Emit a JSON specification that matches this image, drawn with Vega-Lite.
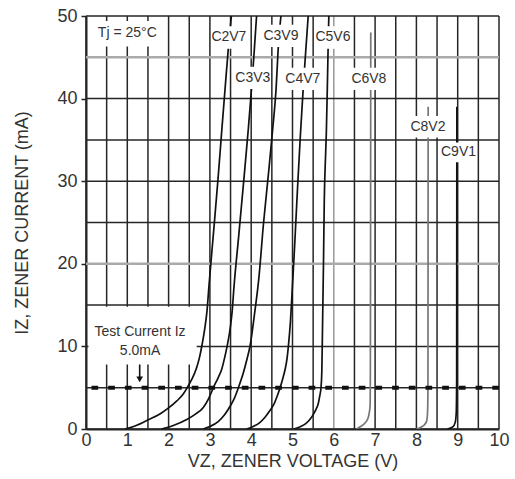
{
  "$schema": "https://vega.github.io/schema/vega-lite/v6.json",
  "width": 413,
  "height": 413,
  "autosize": {"type": "none"},
  "padding": {"left": 86, "top": 16, "right": 16, "bottom": 50},
  "background": "white",
  "config": {"view": {"stroke": null}, "font": "Liberation Sans"},
  "datasets": {
    "gridx": [{"g": 0}, {"g": 0.5}, {"g": 1}, {"g": 1.5}, {"g": 2}, {"g": 2.5}, {"g": 3}, {"g": 3.5}, {"g": 4}, {"g": 4.5}, {"g": 5}, {"g": 5.5}, {"g": 6}, {"g": 6.5}, {"g": 7}, {"g": 7.5}, {"g": 8}, {"g": 8.5}, {"g": 9}, {"g": 9.5}, {"g": 10}],
    "gridy": [{"g": 0}, {"g": 5}, {"g": 10}, {"g": 15}, {"g": 20}, {"g": 25}, {"g": 30}, {"g": 35}, {"g": 40}, {"g": 45}, {"g": 50}],
    "curves": [
      {"s": "C2V7", "v": 0.95, "i": 0}, {"s": "C2V7", "v": 1.2, "i": 0.4}, {"s": "C2V7", "v": 1.5, "i": 1.1}, {"s": "C2V7", "v": 1.8, "i": 1.85}, {"s": "C2V7", "v": 2.0, "i": 2.55}, {"s": "C2V7", "v": 2.2, "i": 3.4}, {"s": "C2V7", "v": 2.35, "i": 4.2}, {"s": "C2V7", "v": 2.45, "i": 5.0}, {"s": "C2V7", "v": 2.56, "i": 6.0}, {"s": "C2V7", "v": 2.67, "i": 7.3}, {"s": "C2V7", "v": 2.75, "i": 8.7}, {"s": "C2V7", "v": 2.81, "i": 10.2}, {"s": "C2V7", "v": 2.88, "i": 12.3}, {"s": "C2V7", "v": 2.93, "i": 14.3}, {"s": "C2V7", "v": 2.98, "i": 17.5}, {"s": "C2V7", "v": 3.1, "i": 24.5}, {"s": "C2V7", "v": 3.2, "i": 30.5}, {"s": "C2V7", "v": 3.29, "i": 36.3}, {"s": "C2V7", "v": 3.38, "i": 42}, {"s": "C2V7", "v": 3.45, "i": 46.3}, {"s": "C2V7", "v": 3.52, "i": 50},
      {"s": "C3V3", "v": 1.83, "i": 0}, {"s": "C3V3", "v": 2.1, "i": 0.4}, {"s": "C3V3", "v": 2.44, "i": 1.15}, {"s": "C3V3", "v": 2.65, "i": 1.8}, {"s": "C3V3", "v": 2.84, "i": 2.6}, {"s": "C3V3", "v": 2.96, "i": 3.6}, {"s": "C3V3", "v": 3.05, "i": 4.6}, {"s": "C3V3", "v": 3.1, "i": 5.2}, {"s": "C3V3", "v": 3.2, "i": 6.2}, {"s": "C3V3", "v": 3.29, "i": 7.3}, {"s": "C3V3", "v": 3.36, "i": 8.7}, {"s": "C3V3", "v": 3.42, "i": 10.1}, {"s": "C3V3", "v": 3.5, "i": 12.5}, {"s": "C3V3", "v": 3.54, "i": 14.3}, {"s": "C3V3", "v": 3.58, "i": 17}, {"s": "C3V3", "v": 3.7, "i": 23.5}, {"s": "C3V3", "v": 3.8, "i": 29}, {"s": "C3V3", "v": 3.93, "i": 36.3}, {"s": "C3V3", "v": 4.02, "i": 42}, {"s": "C3V3", "v": 4.07, "i": 45.5}, {"s": "C3V3", "v": 4.13, "i": 50},
      {"s": "C3V9", "v": 2.84, "i": 0}, {"s": "C3V9", "v": 3.0, "i": 0.3}, {"s": "C3V9", "v": 3.2, "i": 0.9}, {"s": "C3V9", "v": 3.35, "i": 1.7}, {"s": "C3V9", "v": 3.49, "i": 2.76}, {"s": "C3V9", "v": 3.6, "i": 3.8}, {"s": "C3V9", "v": 3.69, "i": 5}, {"s": "C3V9", "v": 3.81, "i": 6.8}, {"s": "C3V9", "v": 3.9, "i": 8.5}, {"s": "C3V9", "v": 3.97, "i": 10}, {"s": "C3V9", "v": 4.09, "i": 14.3}, {"s": "C3V9", "v": 4.18, "i": 18}, {"s": "C3V9", "v": 4.3, "i": 25}, {"s": "C3V9", "v": 4.42, "i": 31}, {"s": "C3V9", "v": 4.52, "i": 36.3}, {"s": "C3V9", "v": 4.6, "i": 41}, {"s": "C3V9", "v": 4.66, "i": 46.5}, {"s": "C3V9", "v": 4.72, "i": 50},
      {"s": "C4V7", "v": 3.89, "i": 0}, {"s": "C4V7", "v": 4.05, "i": 0.3}, {"s": "C4V7", "v": 4.2, "i": 0.75}, {"s": "C4V7", "v": 4.33, "i": 1.4}, {"s": "C4V7", "v": 4.45, "i": 2.2}, {"s": "C4V7", "v": 4.55, "i": 3.0}, {"s": "C4V7", "v": 4.63, "i": 4.0}, {"s": "C4V7", "v": 4.7, "i": 5.0}, {"s": "C4V7", "v": 4.77, "i": 6.2}, {"s": "C4V7", "v": 4.82, "i": 7.2}, {"s": "C4V7", "v": 4.87, "i": 8.6}, {"s": "C4V7", "v": 4.9, "i": 10}, {"s": "C4V7", "v": 4.95, "i": 13}, {"s": "C4V7", "v": 4.99, "i": 16.5}, {"s": "C4V7", "v": 5.05, "i": 22}, {"s": "C4V7", "v": 5.12, "i": 29}, {"s": "C4V7", "v": 5.19, "i": 35.5}, {"s": "C4V7", "v": 5.26, "i": 41.3}, {"s": "C4V7", "v": 5.31, "i": 45}, {"s": "C4V7", "v": 5.38, "i": 50},
      {"s": "C5V6", "v": 5.03, "i": 0}, {"s": "C5V6", "v": 5.2, "i": 0.3}, {"s": "C5V6", "v": 5.32, "i": 0.65}, {"s": "C5V6", "v": 5.42, "i": 1.15}, {"s": "C5V6", "v": 5.52, "i": 1.9}, {"s": "C5V6", "v": 5.58, "i": 2.5}, {"s": "C5V6", "v": 5.62, "i": 3.0}, {"s": "C5V6", "v": 5.66, "i": 4.0}, {"s": "C5V6", "v": 5.69, "i": 5}, {"s": "C5V6", "v": 5.71, "i": 7}, {"s": "C5V6", "v": 5.72, "i": 10}, {"s": "C5V6", "v": 5.735, "i": 15}, {"s": "C5V6", "v": 5.75, "i": 20}, {"s": "C5V6", "v": 5.77, "i": 27.8}, {"s": "C5V6", "v": 5.8, "i": 33}, {"s": "C5V6", "v": 5.82, "i": 36}, {"s": "C5V6", "v": 5.85, "i": 43}, {"s": "C5V6", "v": 5.87, "i": 48}, {"s": "C5V6", "v": 5.88, "i": 50},
      {"s": "C6V8", "v": 6.55, "i": 0}, {"s": "C6V8", "v": 6.65, "i": 0.3}, {"s": "C6V8", "v": 6.75, "i": 0.7}, {"s": "C6V8", "v": 6.82, "i": 1.2}, {"s": "C6V8", "v": 6.86, "i": 2.0}, {"s": "C6V8", "v": 6.88, "i": 3.0}, {"s": "C6V8", "v": 6.885, "i": 6}, {"s": "C6V8", "v": 6.89, "i": 20}, {"s": "C6V8", "v": 6.895, "i": 48},
      {"s": "C8V2", "v": 8.0, "i": 0}, {"s": "C8V2", "v": 8.12, "i": 0.25}, {"s": "C8V2", "v": 8.2, "i": 0.55}, {"s": "C8V2", "v": 8.25, "i": 1.0}, {"s": "C8V2", "v": 8.27, "i": 2.0}, {"s": "C8V2", "v": 8.28, "i": 5}, {"s": "C8V2", "v": 8.285, "i": 39},
      {"s": "C9V1", "v": 8.75, "i": 0}, {"s": "C9V1", "v": 8.88, "i": 0.25}, {"s": "C9V1", "v": 8.94, "i": 0.8}, {"s": "C9V1", "v": 8.965, "i": 2.0}, {"s": "C9V1", "v": 8.975, "i": 6}, {"s": "C9V1", "v": 8.98, "i": 39}
    ],
    "boxes": [
      {"v1": 0.2, "v2": 1.78, "i1": 46.3, "i2": 49.4},
      {"v1": 3.04, "v2": 3.91, "i1": 46.05, "i2": 48.75},
      {"v1": 3.6, "v2": 4.47, "i1": 41.15, "i2": 43.85},
      {"v1": 4.27, "v2": 5.17, "i1": 46.25, "i2": 48.95},
      {"v1": 4.8, "v2": 5.7, "i1": 41.05, "i2": 43.75},
      {"v1": 5.56, "v2": 6.4, "i1": 46.05, "i2": 48.75},
      {"v1": 6.4, "v2": 7.3, "i1": 41.05, "i2": 43.75},
      {"v1": 7.85, "v2": 8.72, "i1": 35.3, "i2": 37.9},
      {"v1": 8.6, "v2": 9.44, "i1": 32.3, "i2": 34.7},
      {"v1": 0.06, "v2": 2.68, "i1": 7.8, "i2": 14.8}
    ],
    "labels": [
      {"t": "Tj = 25°C", "v": 1.0, "i": 47.9},
      {"t": "C2V7", "v": 3.46, "i": 47.4},
      {"t": "C3V3", "v": 4.04, "i": 42.5},
      {"t": "C3V9", "v": 4.72, "i": 47.6},
      {"t": "C4V7", "v": 5.25, "i": 42.4},
      {"t": "C5V6", "v": 5.98, "i": 47.4},
      {"t": "C6V8", "v": 6.85, "i": 42.4},
      {"t": "C8V2", "v": 8.28, "i": 36.6},
      {"t": "C9V1", "v": 9.02, "i": 33.5},
      {"t": "Test Current Iz", "v": 1.31, "i": 11.8},
      {"t": "5.0mA", "v": 1.31, "i": 9.5}
    ],
    "one": [{}]
  },
  "layer": [
    {
      "data": {"name": "gridx"},
      "mark": {"type": "rule", "strokeWidth": 1.5},
      "encoding": {
        "x": {
          "field": "g", "type": "quantitative",
          "scale": {"domain": [0, 10], "nice": false, "zero": false},
          "axis": {
            "title": "VZ, ZENER VOLTAGE (V)",
            "values": [0, 1, 2, 3, 4, 5, 6, 7, 8, 9, 10],
            "labelExpr": "datum.value % 1 === 0 ? format(datum.value, 'd') : ''",
            "labelFontSize": 18, "labelColor": "#333", "labelPadding": 2,
            "labelOverlap": false, "labelFlush": false, "labelBound": false,
            "ticks": false,
            "domainColor": "#222", "domainWidth": 2,
            "grid": false,
            "titleFontSize": 18, "titleFontWeight": "normal", "titleColor": "#333", "titlePadding": 3
          }
        },
        "color": {"condition": {"test": "datum.g === 6", "value": "#999999"}, "value": "#262626"}
      }
    },
    {
      "data": {"name": "gridy"},
      "mark": {"type": "rule"},
      "encoding": {
        "y": {
          "field": "g", "type": "quantitative",
          "scale": {"domain": [0, 50], "nice": false},
          "axis": {
            "title": "IZ, ZENER CURRENT (mA)",
            "values": [0, 10, 20, 30, 40, 50],
            "labelExpr": "datum.value % 10 === 0 ? datum.label : ''",
            "labelFontSize": 18, "labelColor": "#333", "labelPadding": 4,
            "labelOverlap": false, "labelBound": false, "labelFlush": false,
            "tickSize": 5, "tickColor": "#222", "tickWidth": 1.5,
            "tickOpacity": {"condition": {"test": "datum.value % 10 === 0", "value": 1}, "value": 0},
            "domainColor": "#222", "domainWidth": 2,
            "grid": false,
            "titleFontSize": 18, "titleFontWeight": "normal", "titleColor": "#333", "titlePadding": 25
          }
        },
        "color": {"condition": {"test": "datum.g === 45 || datum.g === 20", "value": "#aaaaaa"}, "value": "#262626"},
        "strokeWidth": {"condition": {"test": "datum.g === 45 || datum.g === 20", "value": 2.5}, "value": 1.5}
      }
    },
    {
      "data": {"name": "curves"},
      "mark": {"type": "line", "strokeWidth": 1.7, "interpolate": "monotone", "clip": true},
      "encoding": {
        "x": {"field": "v", "type": "quantitative"},
        "y": {"field": "i", "type": "quantitative"},
        "color": {
          "field": "s", "type": "nominal", "legend": null,
          "scale": {
            "domain": ["C2V7", "C3V3", "C3V9", "C4V7", "C5V6", "C6V8", "C8V2", "C9V1"],
            "range": ["#111111", "#111111", "#111111", "#111111", "#111111", "#777777", "#777777", "#111111"]
          }
        }
      }
    },
    {
      "data": {"name": "one"},
      "mark": {"type": "rule", "color": "#111", "strokeWidth": 4, "strokeDash": [6.7, 10]},
      "encoding": {"y": {"datum": 5}}
    },
    {
      "data": {"name": "one"},
      "mark": {"type": "rule", "color": "#111", "strokeWidth": 1.6},
      "encoding": {"x": {"datum": 1.3}, "y": {"datum": 8.3}, "y2": {"datum": 6.2}}
    },
    {
      "data": {"name": "one"},
      "mark": {"type": "point", "shape": "triangle-down", "filled": true, "color": "#111", "size": 45, "opacity": 1},
      "encoding": {"x": {"datum": 1.3}, "y": {"datum": 6.0}}
    },
    {
      "data": {"name": "boxes"},
      "mark": {"type": "rect", "color": "white", "opacity": 1},
      "encoding": {
        "x": {"field": "v1", "type": "quantitative"},
        "x2": {"field": "v2"},
        "y": {"field": "i1", "type": "quantitative"},
        "y2": {"field": "i2"}
      }
    },
    {
      "data": {"name": "labels"},
      "mark": {"type": "text", "fontSize": 14, "color": "#333", "align": "center", "baseline": "middle", "font": "Liberation Sans"},
      "encoding": {
        "x": {"field": "v", "type": "quantitative"},
        "y": {"field": "i", "type": "quantitative"},
        "text": {"field": "t"}
      }
    }
  ]
}
